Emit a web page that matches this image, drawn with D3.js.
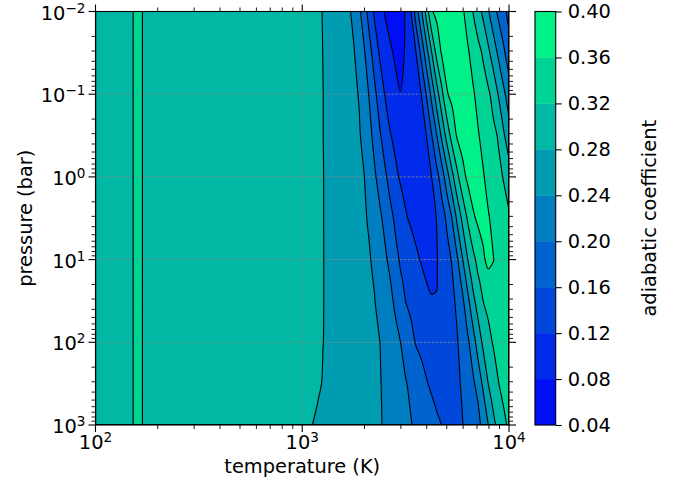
<!DOCTYPE html>
<html>
<head>
<meta charset="utf-8">
<script src="https://cdn.jsdelivr.net/npm/d3@7"></script>
<style>
  body { margin: 0; background: #fff; }
  svg text { font-family: "DejaVu Sans", sans-serif; fill: #000; }
</style>
</head>
<body>
<svg id="chart" width="684" height="484"></svg>
<script>
// Sampling nodes of the adiabatic-coefficient table: log10 T [K] (columns) and log10 P [bar] (rows)
const logTemp = [2.0, 2.1, 2.16, 2.204, 2.25, 2.5, 2.75,
  3.0, 3.025, 3.05, 3.075, 3.1, 3.125, 3.15, 3.175, 3.2, 3.225, 3.25, 3.275, 3.3, 3.325,
  3.35, 3.375, 3.4, 3.425, 3.45, 3.475, 3.5, 3.525, 3.55, 3.575, 3.6, 3.625, 3.65, 3.675,
  3.7, 3.725, 3.75, 3.775, 3.8, 3.825, 3.85, 3.875, 3.9, 3.925, 3.95, 3.975, 4.0];
const logPres = [-2, -1.5, -1, -0.5, 0, 0.5, 1, 1.25, 1.5, 2, 2.5, 2.75, 3];

// Adiabatic coefficient, one row per pressure node
const gradAd = [
  [0.300,0.300,0.300,0.340,0.300,0.300,0.300, 0.300,0.2948,0.2896,0.2845,0.2791,0.2721,0.2652,0.2584,0.2515,0.2445,0.2317,0.2083,0.1773,0.1427,0.1133,0.0945,0.0771,0.0656,0.0540,0.0624,0.0833,0.1180,0.1790,0.2330,0.2945,0.3565,0.3696,0.3796,0.3898,0.3843,0.3745,0.3649,0.3465,0.3195,0.2959,0.2711,0.2422,0.2144,0.1905,0.1710,0.1450],
  [0.300,0.300,0.300,0.340,0.300,0.300,0.300, 0.300,0.2949,0.2898,0.2849,0.2798,0.2734,0.2671,0.2609,0.2545,0.2482,0.2418,0.2252,0.2037,0.1735,0.1415,0.1154,0.1006,0.0857,0.0745,0.0708,0.0834,0.1012,0.1190,0.1682,0.2210,0.2767,0.3313,0.3647,0.3754,0.3860,0.3869,0.3757,0.3642,0.3494,0.3328,0.3145,0.2885,0.2600,0.2315,0.2060,0.1780],
  [0.300,0.300,0.300,0.340,0.300,0.300,0.300, 0.300,0.2950,0.2901,0.2852,0.2803,0.2745,0.2686,0.2629,0.2570,0.2511,0.2453,0.2384,0.2180,0.1967,0.1682,0.1420,0.1184,0.1050,0.0910,0.0806,0.0803,0.0880,0.1000,0.1194,0.1618,0.2100,0.2620,0.3100,0.3573,0.3699,0.3805,0.3890,0.3766,0.3641,0.3515,0.3392,0.3265,0.3057,0.2760,0.2469,0.2200],
  [0.300,0.300,0.300,0.340,0.300,0.300,0.300, 0.300,0.2950,0.2901,0.2852,0.2803,0.2749,0.2696,0.2643,0.2590,0.2536,0.2482,0.2430,0.2310,0.2106,0.1882,0.1642,0.1428,0.1220,0.1124,0.1041,0.0957,0.0929,0.1018,0.1106,0.1195,0.1563,0.1984,0.2484,0.2947,0.3371,0.3651,0.3760,0.3871,0.3758,0.3625,0.3514,0.3404,0.3295,0.3157,0.2843,0.2550],
  [0.300,0.300,0.300,0.340,0.300,0.300,0.300, 0.300,0.2952,0.2903,0.2856,0.2807,0.2757,0.2706,0.2657,0.2606,0.2555,0.2504,0.2455,0.2404,0.2233,0.2052,0.1863,0.1665,0.1467,0.1269,0.1160,0.1097,0.1034,0.0971,0.1042,0.1118,0.1193,0.1461,0.1789,0.2230,0.2692,0.3112,0.3471,0.3677,0.3799,0.3767,0.3625,0.3509,0.3400,0.3291,0.3173,0.3000],
  [0.300,0.300,0.300,0.340,0.300,0.300,0.300, 0.300,0.2952,0.2903,0.2856,0.2807,0.2760,0.2714,0.2668,0.2621,0.2574,0.2528,0.2482,0.2435,0.2363,0.2214,0.2069,0.1898,0.1709,0.1535,0.1384,0.1230,0.1157,0.1103,0.1050,0.1086,0.1144,0.1204,0.1424,0.1672,0.2019,0.2496,0.2891,0.3244,0.3533,0.3670,0.3719,0.3622,0.3528,0.3435,0.3343,0.3250],
  [0.300,0.300,0.300,0.340,0.300,0.300,0.300, 0.300,0.2952,0.2903,0.2856,0.2807,0.2764,0.2721,0.2679,0.2636,0.2593,0.2550,0.2508,0.2465,0.2422,0.2335,0.2204,0.2070,0.1905,0.1707,0.1555,0.1454,0.1352,0.1251,0.1181,0.1141,0.1140,0.1184,0.1298,0.1458,0.1637,0.1957,0.2374,0.2792,0.3079,0.3320,0.3540,0.3700,0.3605,0.3513,0.3447,0.3380],
  [0.300,0.300,0.300,0.340,0.300,0.300,0.300, 0.300,0.2952,0.2903,0.2856,0.2807,0.2765,0.2724,0.2683,0.2642,0.2600,0.2559,0.2519,0.2477,0.2436,0.2383,0.2261,0.2137,0.2012,0.1829,0.1644,0.1532,0.1443,0.1355,0.1268,0.1194,0.1168,0.1190,0.1284,0.1421,0.1558,0.1797,0.2114,0.2533,0.2890,0.3150,0.3323,0.3479,0.3542,0.3504,0.3468,0.3430],
  [0.300,0.300,0.300,0.340,0.300,0.300,0.300, 0.300,0.2952,0.2903,0.2856,0.2807,0.2766,0.2726,0.2687,0.2647,0.2607,0.2567,0.2528,0.2488,0.2448,0.2408,0.2309,0.2193,0.2078,0.1941,0.1763,0.1594,0.1527,0.1461,0.1396,0.1330,0.1215,0.1210,0.1300,0.1421,0.1525,0.1669,0.1921,0.2282,0.2685,0.2970,0.3202,0.3294,0.3385,0.3477,0.3495,0.3480],
  [0.300,0.300,0.300,0.340,0.300,0.300,0.300, 0.300,0.2950,0.2901,0.2852,0.2803,0.2766,0.2729,0.2693,0.2657,0.2620,0.2584,0.2548,0.2511,0.2475,0.2438,0.2403,0.2306,0.2205,0.2103,0.2004,0.1852,0.1698,0.1578,0.1517,0.1456,0.1395,0.1334,0.1273,0.1369,0.1475,0.1580,0.1741,0.1921,0.2207,0.2575,0.2878,0.3093,0.3236,0.3308,0.3378,0.3450],
  [0.300,0.300,0.300,0.340,0.300,0.300,0.300, 0.300,0.2944,0.2889,0.2834,0.2787,0.2753,0.2719,0.2686,0.2652,0.2618,0.2584,0.2551,0.2517,0.2483,0.2449,0.2415,0.2355,0.2272,0.2189,0.2107,0.2024,0.1928,0.1826,0.1727,0.1625,0.1546,0.1474,0.1403,0.1331,0.1431,0.1534,0.1647,0.1784,0.1921,0.2144,0.2477,0.2807,0.3002,0.3196,0.3288,0.3380],
  [0.300,0.300,0.300,0.340,0.300,0.300,0.300, 0.300,0.2929,0.2858,0.2795,0.2764,0.2732,0.2700,0.2669,0.2638,0.2606,0.2574,0.2543,0.2512,0.2480,0.2449,0.2418,0.2366,0.2289,0.2212,0.2136,0.2059,0.1981,0.1898,0.1816,0.1733,0.1650,0.1569,0.1493,0.1416,0.1411,0.1512,0.1614,0.1737,0.1860,0.1983,0.2275,0.2597,0.2868,0.3056,0.3223,0.3330],
  [0.300,0.300,0.300,0.340,0.300,0.300,0.300, 0.300,0.2896,0.2798,0.2769,0.2740,0.2710,0.2681,0.2652,0.2623,0.2594,0.2565,0.2536,0.2507,0.2477,0.2448,0.2419,0.2375,0.2303,0.2232,0.2161,0.2090,0.2018,0.1947,0.1878,0.1807,0.1737,0.1666,0.1596,0.1497,0.1402,0.1496,0.1589,0.1698,0.1810,0.1921,0.2085,0.2401,0.2710,0.2927,0.3101,0.3280]
];

// Contour levels (also the colorbar ticks)
const levels = [0.04, 0.08, 0.12, 0.16, 0.20, 0.24, 0.28, 0.32, 0.36, 0.40];
// Decade exponents for the major ticks
const tempExps = [2, 3, 4];
const presExps = [-2, -1, 0, 1, 2, 3];

const plot = { left: 95.5, right: 509, top: 11.5, bottom: 425 };
const cbar = { left: 535, right: 555.7, top: 11.5, bottom: 425 };
const FONT = 19.4, SUP = 13.6;

const svg = d3.select("#chart");

const x = d3.scaleLog().domain([1e2, 1e4]).range([plot.left, plot.right]);
const y = d3.scaleLog().domain([1e-2, 1e3]).range([plot.top, plot.bottom]);

// "winter" colormap sampled at each band's mid value
const winter = d3.scaleLinear().domain([levels[0], levels[levels.length - 1]])
  .range(["rgb(0,0,255)", "rgb(0,255,128)"]).interpolate(d3.interpolateRgb);
const bandColor = i => winter((levels[i] + levels[i + 1]) / 2);

// grid index -> log10 value (non-uniform node spacing); contour vertices sit at cell centres
const nx = logTemp.length, ny = logPres.length;
const colToLogT = d3.scaleLinear().domain(d3.range(nx)).range(logTemp).clamp(true);
const rowToLogP = d3.scaleLinear().domain(d3.range(ny)).range(logPres).clamp(true);
const toScreen = ([gx, gy]) => [
  x(Math.pow(10, colToLogT(gx - 0.5))),
  y(Math.pow(10, rowToLogP(gy - 0.5)))
];

// Rings: straight along the frame, smooth curves through the interior vertices
const openCurve = d3.line().curve(d3.curveCatmullRom.alpha(0.5));
const closedCurve = d3.line().curve(d3.curveCatmullRomClosed.alpha(0.5));
const EPS = 0.01;
const onFrame = p => p[0] <= plot.left + EPS || p[0] >= plot.right - EPS ||
  p[1] <= plot.top + EPS || p[1] >= plot.bottom - EPS;
const fmt = p => p[0].toFixed(2) + "," + p[1].toFixed(2);
function ringPath(ring) {
  const pts = [];
  ring.slice(0, -1).map(toScreen).forEach(p => {
    const q = pts[pts.length - 1];
    if (!q || Math.abs(q[0] - p[0]) > 1e-6 || Math.abs(q[1] - p[1]) > 1e-6) pts.push(p);
  });
  while (pts.length > 1 && Math.abs(pts[0][0] - pts[pts.length - 1][0]) < 1e-6 &&
         Math.abs(pts[0][1] - pts[pts.length - 1][1]) < 1e-6) pts.pop();
  if (pts.length < 3) return "";
  const start = pts.findIndex(onFrame);
  if (start < 0) return closedCurve(pts);
  const seq = pts.slice(start).concat(pts.slice(0, start + 1));
  let d = "M" + fmt(seq[0]);
  let i = 0;
  while (i < seq.length - 1) {
    if (onFrame(seq[i + 1])) {
      d += "L" + fmt(seq[i + 1]);
      i += 1;
      continue;
    }
    let j = i + 1;
    while (!onFrame(seq[j])) j += 1;
    d += openCurve(seq.slice(i, j + 1)).replace(/^M[-\d.,e]+/, "");
    i = j;
  }
  return d + "Z";
}
const bandPath = mp => mp.coordinates
  .map(poly => poly.map(ringPath).join(""))
  .join("");

const values = gradAd.flat();
const bands = d3.contours().size([nx, ny]).thresholds(levels.slice(0, -1))(values);

svg.append("defs").append("clipPath").attr("id", "plotClip")
  .append("rect").attr("x", plot.left).attr("y", plot.top)
  .attr("width", plot.right - plot.left).attr("height", plot.bottom - plot.top);

const field = svg.append("g").attr("clip-path", "url(#plotClip)");

// filled bands
field.append("g").selectAll("path").data(bands).join("path")
  .attr("d", bandPath)
  .attr("fill", (d, i) => bandColor(i))
  .attr("fill-rule", "evenodd")
  .attr("stroke", (d, i) => bandColor(i))
  .attr("stroke-width", 0.4);

// dashed grid at the decades
const grid = field.append("g").attr("stroke", "#8c8c8c").attr("stroke-width", 0.8)
  .attr("stroke-dasharray", "2.4,1.6");
grid.selectAll("line.gx").data(tempExps.slice(1, -1)).join("line")
  .attr("x1", e => x(Math.pow(10, e))).attr("x2", e => x(Math.pow(10, e)))
  .attr("y1", plot.top).attr("y2", plot.bottom);
grid.selectAll("line.gy").data(presExps.slice(1, -1)).join("line")
  .attr("y1", e => y(Math.pow(10, e))).attr("y2", e => y(Math.pow(10, e)))
  .attr("x1", plot.left).attr("x2", plot.right);

// contour lines
field.append("g").selectAll("path").data(bands.slice(1)).join("path")
  .attr("d", bandPath)
  .attr("fill", "none")
  .attr("stroke", "#000")
  .attr("stroke-width", 1.1);

// ticks on all four sides, pointing outward
const majorLen = 7, minorLen = 4;
const minorOf = exps => {
  const out = [];
  exps.slice(0, -1).forEach(e => { for (let k = 2; k <= 9; k++) out.push(k * Math.pow(10, e)); });
  return out;
};
const tickG = svg.append("g").attr("stroke", "#000");
function hTicks(vals, len, w) {
  vals.forEach(v => {
    const px = x(v);
    tickG.append("line").attr("x1", px).attr("x2", px).attr("y1", plot.bottom).attr("y2", plot.bottom + len).attr("stroke-width", w);
    tickG.append("line").attr("x1", px).attr("x2", px).attr("y1", plot.top).attr("y2", plot.top - len).attr("stroke-width", w);
  });
}
function vTicks(vals, len, w) {
  vals.forEach(v => {
    const py = y(v);
    tickG.append("line").attr("y1", py).attr("y2", py).attr("x1", plot.left).attr("x2", plot.left - len).attr("stroke-width", w);
    tickG.append("line").attr("y1", py).attr("y2", py).attr("x1", plot.right).attr("x2", plot.right + len).attr("stroke-width", w);
  });
}
hTicks(tempExps.map(e => Math.pow(10, e)), majorLen, 1.1);
hTicks(minorOf(tempExps), minorLen, 0.9);
vTicks(presExps.map(e => Math.pow(10, e)), majorLen, 1.1);
vTicks(minorOf(presExps), minorLen, 0.9);

// power-of-ten tick labels
const expText = e => (e < 0 ? "\u2212" + Math.abs(e) : String(e));
function powLabel(sel, e) {
  sel.append("tspan").text("10");
  sel.append("tspan").attr("dy", -7).attr("font-size", SUP).text(expText(e));
}
tempExps.forEach(e => {
  const t = svg.append("text").attr("x", x(Math.pow(10, e))).attr("y", plot.bottom + 24)
    .attr("text-anchor", "middle").attr("font-size", FONT);
  powLabel(t, e);
});
presExps.forEach(e => {
  const t = svg.append("text").attr("x", plot.left - 10).attr("y", y(Math.pow(10, e)) + 8)
    .attr("text-anchor", "end").attr("font-size", FONT);
  powLabel(t, e);
});

// axis titles
svg.append("text").attr("x", (plot.left + plot.right) / 2).attr("y", 473)
  .attr("text-anchor", "middle").attr("font-size", FONT).text("temperature (K)");
svg.append("text").attr("transform", `translate(32,${(plot.top + plot.bottom) / 2}) rotate(-90)`)
  .attr("text-anchor", "middle").attr("font-size", FONT).text("pressure (bar)");

// frame
svg.append("rect").attr("x", plot.left).attr("y", plot.top)
  .attr("width", plot.right - plot.left).attr("height", plot.bottom - plot.top)
  .attr("fill", "none").attr("stroke", "#000").attr("stroke-width", 1.1);

// colorbar
const cy = d3.scaleLinear().domain([levels[0], levels[levels.length - 1]]).range([cbar.bottom, cbar.top]);
const cb = svg.append("g");
cb.selectAll("rect.band").data(d3.range(levels.length - 1)).join("rect")
  .attr("x", cbar.left).attr("width", cbar.right - cbar.left)
  .attr("y", i => cy(levels[i + 1])).attr("height", i => cy(levels[i]) - cy(levels[i + 1]))
  .attr("fill", i => bandColor(i)).attr("stroke", i => bandColor(i)).attr("stroke-width", 0.3);
cb.append("rect").attr("x", cbar.left).attr("y", cbar.top)
  .attr("width", cbar.right - cbar.left).attr("height", cbar.bottom - cbar.top)
  .attr("fill", "none").attr("stroke", "#000").attr("stroke-width", 1.1);
const cAxis = d3.axisRight(cy).tickValues(levels).tickFormat(d3.format(".2f"))
  .tickSize(6).tickPadding(6);
const cAxisG = svg.append("g").attr("transform", `translate(${cbar.right},0)`).call(cAxis);
cAxisG.select(".domain").remove();
cAxisG.selectAll(".tick line").attr("stroke", "#000").attr("stroke-width", 1.1);
cAxisG.selectAll(".tick text").attr("font-size", FONT).attr("font-family", "DejaVu Sans").attr("fill", "#000");
svg.append("text").attr("transform", `translate(656,${(cbar.top + cbar.bottom) / 2}) rotate(-90)`)
  .attr("text-anchor", "middle").attr("font-size", FONT).text("adiabatic coefficient");
</script>
</body>
</html>
